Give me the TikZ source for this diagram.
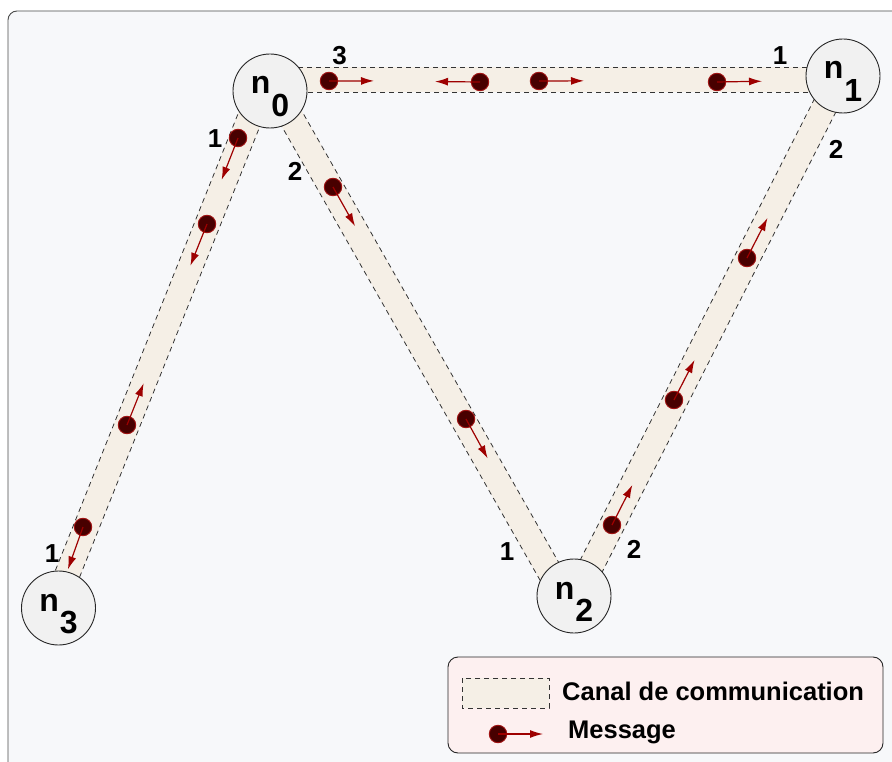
\documentclass[tikz,border=0pt]{standalone}
\usepackage{fontspec}
\setmainfont{Liberation Sans}
\usetikzlibrary{calc,arrows.meta}
\definecolor{bgcol}{HTML}{F7F8FA}
\definecolor{chancol}{HTML}{F5EFE6}
\definecolor{nodecol}{HTML}{F1F1F1}
\definecolor{msgfill}{HTML}{480000}
\definecolor{msgline}{HTML}{A01212}
\definecolor{arrcol}{HTML}{9E0000}
\definecolor{legcol}{HTML}{FDF0F0}
\tikzset{
 proc/.style={circle, draw=black!85, line width=0.9pt, fill=nodecol, minimum size=74pt, inner sep=0pt, text height=14pt, text depth=8pt, font=\fontsize{32}{34}\selectfont\bfseries},
 msg/.style={circle, fill=msgfill, draw=msgline, line width=0.9pt, minimum size=17.5pt, inner sep=0pt},
 msgarrow/.style={draw=arrcol, line width=1.2pt, -{Latex[length=13pt,width=8pt]}},
 chanedge/.style={draw=black!80, line width=0.8pt, dash pattern=on 5pt off 4pt},
 portlbl/.style={inner sep=0pt, font=\fontsize{26}{28}\selectfont\bfseries},
 legtext/.style={inner sep=0pt, font=\fontsize{25.5}{28}\selectfont\bfseries, anchor=base west},
}
\newcommand{\nlabel}[1]{n\kern1pt\raisebox{-0.7em}{#1}}
\newcommand{\drawchannel}[2]{%
  \fill[chancol] ($(#1)!12.5pt!90:(#2)$) -- ($(#2)!12.5pt!-90:(#1)$) -- ($(#2)!12.5pt!90:(#1)$) -- ($(#1)!12.5pt!-90:(#2)$) -- cycle;
  \draw[chanedge] ($(#1)!12.5pt!90:(#2)$) -- ($(#2)!12.5pt!-90:(#1)$);
  \draw[chanedge] ($(#2)!12.5pt!90:(#1)$) -- ($(#1)!12.5pt!-90:(#2)$);
}
\begin{document}
\begin{tikzpicture}[x=1pt,y=-1pt]
\path[use as bounding box, clip] (0,0) rectangle (892,762);
\fill[white] (0,0) rectangle (892,762);
\draw[fill=bgcol, draw=black!70, line width=0.9pt, rounded corners=9pt] (8,11) rectangle (910,780);

% channel end points
\coordinate (a01) at (280,80);  \coordinate (b01) at (835,80);
\coordinate (a03) at (257,100); \coordinate (b03) at (57,600);
\coordinate (a02) at (284,105); \coordinate (b02) at (560,590);
\coordinate (a21) at (579,590); \coordinate (b21) at (833,90);

\drawchannel{a01}{b01}
\drawchannel{a03}{b03}
\drawchannel{a02}{b02}
\drawchannel{a21}{b21}

% processes
\node[proc] (n0) at (270,91) {\nlabel{0}};
\node[proc] (n1) at (843,76) {\nlabel{1}};
\node[proc] (n2) at (574,596) {\nlabel{2}};
\node[proc] (n3) at (58.5,608) {\nlabel{3}};

% messages
\foreach \i/\x/\y/\t in {1/329/81/b01, 2/480/82/a01, 3/539/81/b01, 4/717/82/b01,
  5/238/138/b03, 6/207/224/b03, 7/127/425/a03, 8/83/527/b03,
  9/333/187/b02, 10/466/419/b02,
  11/612/525/b21, 12/674/400/b21, 13/747/258/b21}{
  \node[msg] (m\i) at (\x,\y) {};
  \draw[msgarrow] (m\i.center) -- ($(m\i.center)!45pt!(\t)$);
}

% port labels
\node[portlbl] (p03) at (339.5,55.5) {3};
\node[portlbl] (p11) at (780,56) {1};
\node[portlbl] (p12) at (836,149) {2};
\node[portlbl] (p01) at (215,139) {1};
\node[portlbl] (p02) at (295,171) {2};
\node[portlbl] (p31) at (52,554) {1};
\node[portlbl] (p21) at (507,552) {1};
\node[portlbl] (p22) at (634,549) {2};

% legend
\draw[fill=legcol, draw=black!85, line width=0.9pt, rounded corners=10pt] (448,657) rectangle (883,753);
\fill[chancol] (462,678) rectangle (549,708);
\draw[chanedge] (462,678) rectangle (549,708);
\node[legtext] (lt1) at (562,700) {Canal de communication};
\node[msg] (lm) at (498,734) {};
\coordinate (lmt) at (543,734);
\draw[msgarrow] (lm.center) -- (lmt);
\node[legtext] (lt2) at (568,738) {Message};
\end{tikzpicture}
\end{document}
